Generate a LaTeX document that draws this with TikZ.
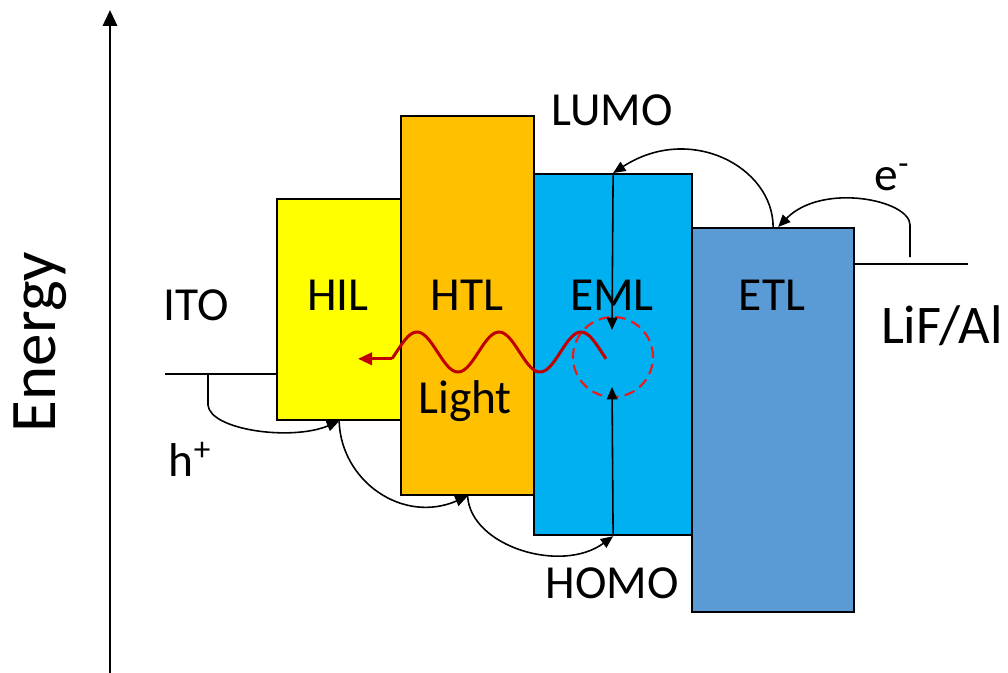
\documentclass[tikz,border=0pt]{standalone}
\usepackage{fontspec}
\setmainfont{Carlito}
\usepackage{tikz}
\usetikzlibrary{positioning,arrows.meta,calc}
\usepackage{xcolor}
\definecolor{giallo}{HTML}{FFFF00}
\definecolor{arancio}{HTML}{FFC000}
\definecolor{azzurro}{HTML}{00B0F0}
\definecolor{bluetl}{HTML}{5B9BD5}
\definecolor{rossoscuro}{HTML}{C00000}
\definecolor{rossovivo}{HTML}{F01818}

\tikzset{
  strato/.style={draw=black, line width=1.3pt, anchor=north west, inner sep=0pt},
  etichetta/.style={anchor=base, inner sep=0pt, font=\fontsize{27}{30}\selectfont},
  salto/.style={-{Triangle[length=7pt,width=6pt]}, line width=0.9pt},
  livello/.style={line width=1.3pt}
}

\begin{document}
\begin{tikzpicture}[x=0.02cm, y=-0.02cm]
    \useasboundingbox (0,0) rectangle (1008,673);

    % Asse energia
    \draw[line width=1.6pt, -{Triangle[length=9pt,width=8pt]}] (110,673) -- (110,10);
    \node[etichetta, font=\fontsize{37}{40}\selectfont, rotate=90] (energia) at (55,342) {Energy};

    % Strati
    \node[strato, fill=giallo, minimum width=2.48cm, minimum height=4.42cm] (HIL) at (276,198) {};
    \node[strato, fill=arancio, minimum width=2.66cm, minimum height=7.58cm] (HTL) at (400,115) {};
    \node[strato, fill=azzurro, minimum width=3.16cm, minimum height=7.22cm] (EML) at (533,173) {};
    \node[strato, fill=bluetl, minimum width=3.24cm, minimum height=7.68cm] (ETL) at (691,227) {};

    % Elettrodi
    \coordinate (ito) at (165,374);
    \coordinate (lif) at (968,264);
    \draw[livello] (ito) -- (ito -| HIL.west);
    \draw[livello] (lif -| ETL.east) -- (lif);

    % Etichette
    \node[etichetta] (tHIL) at (338,310) {HIL};
    \node[etichetta] (tHTL) at (467,310) {HTL};
    \node[etichetta] (tEML) at (612,310) {EML};
    \node[etichetta] (tETL) at (772,310) {ETL};
    \node[etichetta] (luce) at (465,413) {Light};
    \node[etichetta] (tITO) at (196,320) {ITO};
    \node[etichetta] (lacune) at (190,476) {h\textsuperscript{+}};
    \node[etichetta] (elettroni) at (892,190) {e\textsuperscript{-}};
    \node[etichetta] (lumo) at (612,125) {LUMO};
    \node[etichetta] (homo) at (612,598) {HOMO};
    \node[etichetta, font=\fontsize{31}{34}\selectfont] (tLIF) at (942,343) {LiF/Al};

    % Trasporto lacune
    \coordinate (itocalo) at (208,374);
    \draw[salto] (itocalo) -- ++(0,31) .. controls +(2,25) and +(-48,20) .. (HIL.south);
    \draw[salto] (HIL.south) .. controls +(2,60) and +(-65,28) .. (HTL.south);
    \draw[salto] (HTL.south) .. controls +(3,50) and +(-52,38) .. (EML.south);

    % Trasporto elettroni
    \coordinate (lifcalo) at (910,257);
    \draw[salto] (lifcalo) -- ++(0,-32) .. controls +(0,-25) and +(44,-45) .. ($(ETL.north)+(5,0)$);
    \draw[salto] (ETL.north) .. controls +(0,-60) and +(77,-50) .. (EML.north);

    % Ricombinazione
    \node[circle, draw=rossovivo, dash pattern=on 6pt off 3.5pt, line width=1.2pt, minimum size=1.6cm] (ricomb) at (613,357) {};
    \coordinate (elettrone) at (612,330);
    \coordinate (lacuna) at (612,387);
    \draw[salto] (EML.north) -- (elettrone);
    \draw[salto] (EML.south) -- (lacuna);

    % Emissione
    \coordinate (ondainizio) at (392,358.8);
    \coordinate (ondapunta) at (358,358.8);
    \draw[rossoscuro, line width=1.7pt] plot[domain=392:606, samples=120] (\x, {352-20*sin((\x-396.5)*4.39)});
    \draw[rossoscuro, line width=1.7pt, -{Triangle[length=8pt,width=7pt]}] (ondainizio) -- (ondapunta);
\end{tikzpicture}
\end{document}
